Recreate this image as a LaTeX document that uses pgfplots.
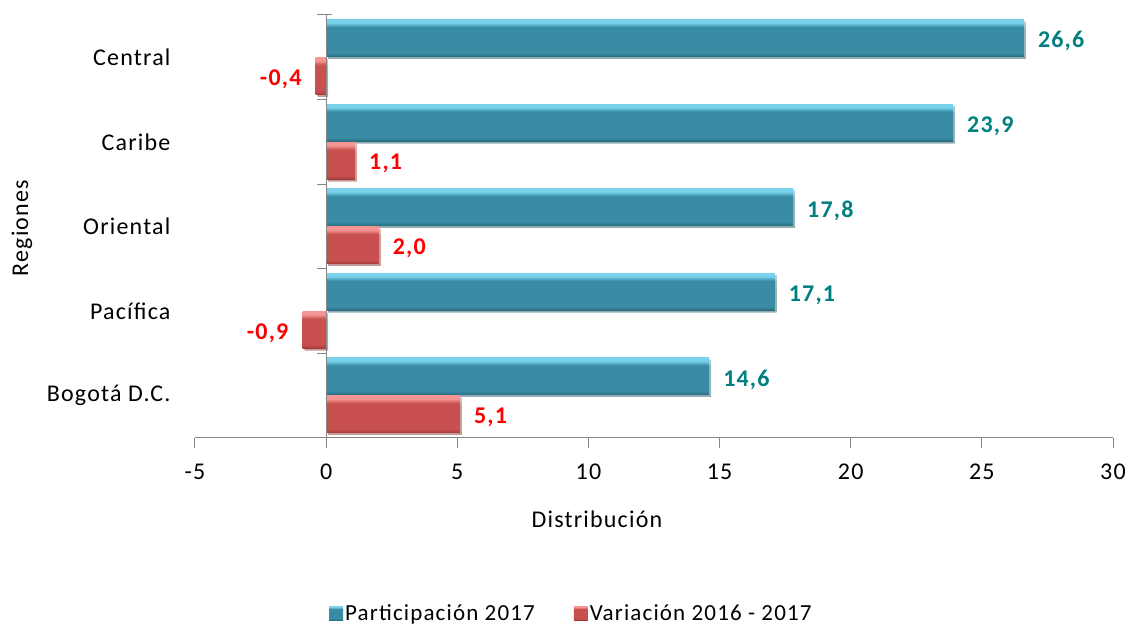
\documentclass[border=0pt]{standalone}
\usepackage{pgfplots}
\pgfplotsset{compat=1.18}
\usetikzlibrary{shadows}
\usepackage{fontspec}
\setmainfont{Carlito}[LetterSpace=5]
\definecolor{axisgray}{RGB}{134,134,134}
\definecolor{valteal}{RGB}{0,128,128}
\definecolor{bl}{RGB}{120,210,235}
\definecolor{bm}{RGB}{58,140,165}
\definecolor{bd}{RGB}{40,105,125}
\definecolor{rl}{RGB}{245,150,148}
\definecolor{rm}{RGB}{200,80,78}
\definecolor{rd}{RGB}{160,58,56}
\pgfdeclareverticalshading{bluebar}{100bp}{color(0bp)=(bd); color(25bp)=(bd); color(30bp)=(bm); color(65bp)=(bm); color(71bp)=(bl); color(75bp)=(bl); color(100bp)=(bl)}
\pgfdeclareverticalshading{redbar}{100bp}{color(0bp)=(rd); color(25bp)=(rd); color(30bp)=(rm); color(65bp)=(rm); color(71bp)=(rl); color(75bp)=(rl); color(100bp)=(rl)}
\tikzset{barshadow/.style={drop shadow={shadow xshift=2pt, shadow yshift=-2pt, opacity=0.35, fill=black!60}}}
\newcommand{\bbar}[2]{\addplot[shading=bluebar, draw=none, barshadow, bar shift=19pt, forget plot, nodes near coords style={text=valteal}] coordinates {(#1,#2)};}
\newcommand{\rbar}[2]{\addplot[shading=redbar, draw=none, barshadow, bar shift=-19pt, forget plot, nodes near coords style={text=red}] coordinates {(#1,#2)};}
\begin{document}
\begin{tikzpicture}[font=\fontsize{24}{28}\selectfont]
\path[use as bounding box] (-195pt,-191.3pt) rectangle (934pt,437.7pt);
\begin{axis}[
 at={(0pt,0pt)}, anchor=south west, scale only axis, width=918pt, height=422.7pt,
 xmin=-5, xmax=30, ymin=-0.5, ymax=4.5,
 xtick={-5,0,5,10,15,20,25,30},
 ytick={0,1,2,3,4},
 yticklabels={Bogotá D.C., Pacífica, Oriental, Caribe, Central},
 axis x line*=bottom, axis y line*=left,
 y axis line style={draw=none},
 x axis line style={axisgray, line width=1pt},
 xtick style={axisgray, line width=1pt},
 ytick style={draw=none},
 tick align=outside,
 major tick length=10pt,
 xticklabel style={yshift=-13pt},
 yticklabel style={xshift=-11pt},
 /pgf/number format/assume math mode=true,
 xbar, bar width=37pt,
 legend style={at={(0.41,-0.415)}, anchor=center, draw=none, font=\fontsize{23}{27}\selectfont, legend columns=2, /tikz/every even column/.append style={column sep=37pt}},
 legend image code/.code={\path[#1] (0pt,-7pt) rectangle (14pt,7pt);},
 nodes near coords={\pgfmathprintnumber[fixed,fixed zerofill,precision=1,use comma]{\pgfplotspointmeta}},
 nodes near coords style={font=\fontsize{24}{28}\selectfont\bfseries, inner xsep=14pt, yshift=-3pt},
 clip=false,
]
\bbar{14.6}{0}
\bbar{17.1}{1}
\bbar{17.8}{2}
\bbar{23.9}{3}
\bbar{26.6}{4}
\rbar{5.1}{0}
\rbar{-0.9}{1}
\rbar{2.0}{2}
\rbar{1.1}{3}
\rbar{-0.4}{4}
\addlegendimage{shading=bluebar, draw=none}
\addlegendentry{Participación 2017}
\addlegendimage{shading=redbar, draw=none}
\addlegendentry{Variación 2016 - 2017}
\draw[axisgray, line width=1pt] (axis cs:0,-0.5) -- (axis cs:0,4.5);
\pgfplotsinvokeforeach{-0.5,0.5,1.5,2.5,3.5,4.5}{\draw[axisgray, line width=1pt] (axis cs:0,#1) -- ++(-9pt,0pt);}
\draw[axisgray, line width=1pt] (axis cs:0,4.5) -- ++(6pt,0pt);
\end{axis}
\node[rotate=90] at (-173pt,209.7pt) {Regiones};
\node at (402pt,-81.3pt) {Distribución};
\end{tikzpicture}
\end{document}
